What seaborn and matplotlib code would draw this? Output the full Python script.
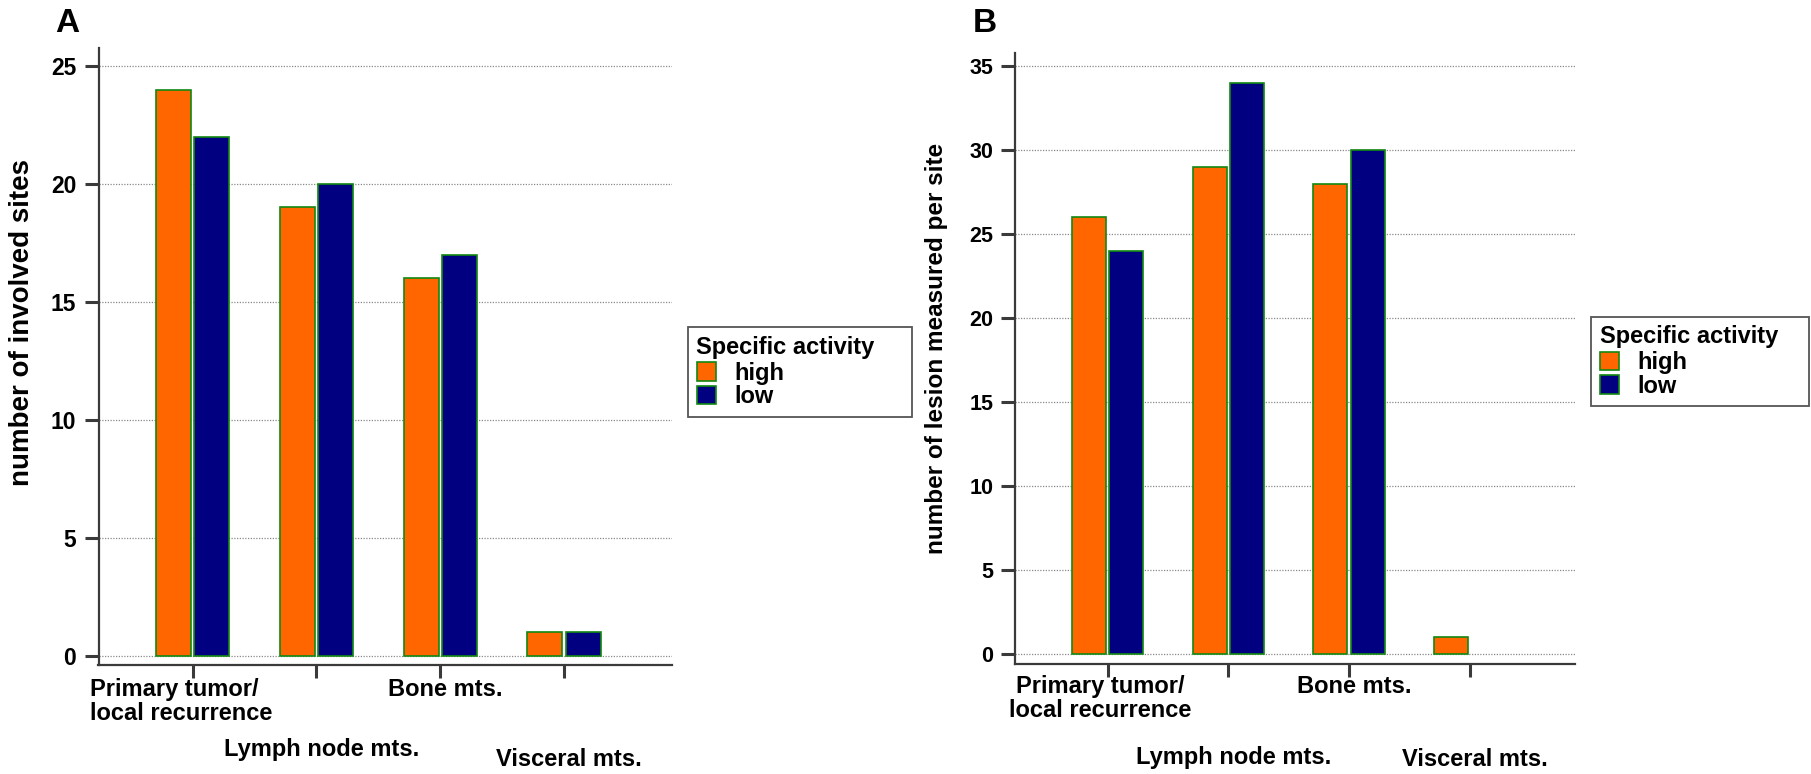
import matplotlib
matplotlib.use("Agg")
import matplotlib.pyplot as plt
import matplotlib.transforms as mtransforms
from matplotlib.patches import Patch
import seaborn as sns
import pandas as pd

# ---- data ----
sites = ["Primary tumor/\nlocal recurrence", "Lymph node mts.", "Bone mts.", "Visceral mts."]
activity = ["high", "low"]
a_high = [24, 19, 16, 1]
a_low = [22, 20, 17, 1]
b_high = [26, 29, 28, 1]
b_low = [24, 34, 30, None]   # no 'low' bar for visceral in panel B
a_yticks = [0, 5, 10, 15, 20, 25]
b_yticks = [0, 5, 10, 15, 20, 25, 30, 35]
a_ylabel = "number of involved sites"
b_ylabel = "number of lesion measured per site"
legend_title = "Specific activity"

ORANGE = "#FF6600"
NAVY = "#000080"
EDGE = "#118811"
SPINE = "#3a3a3a"

sns.set_style("white")
REG = ["Liberation Sans", "DejaVu Sans"]
plt.rcParams["font.family"] = REG
plt.rcParams["font.weight"] = "bold"
plt.rcParams["text.color"] = "black"
plt.rcParams["axes.labelcolor"] = "black"
plt.rcParams["xtick.color"] = "black"
plt.rcParams["ytick.color"] = "black"


def make_df(high, low):
    rows = []
    for s, h, l in zip(sites, high, low):
        if h is not None:
            rows.append((s, "high", h))
        if l is not None:
            rows.append((s, "low", l))
    return pd.DataFrame(rows, columns=["site", "activity", "value"])


fig = plt.figure(figsize=(18.11, 7.74), dpi=100)
W, H = 1811, 774


def panel(rect, high, low, yticks, xlim, ylim, ticksize, offsets, first_shift, first_align):
    ax = fig.add_axes(rect)
    df = make_df(high, low)
    sns.barplot(data=df, x="site", y="value", hue="activity", order=sites,
                hue_order=activity, palette=[ORANGE, NAVY], width=0.62, gap=0.09,
                edgecolor=EDGE, linewidth=1.2, saturation=1, legend=False, ax=ax)
    ax.set_xlim(*xlim)
    ax.set_ylim(*ylim)
    ax.set_yticks(yticks)
    ax.set_yticklabels([str(t) for t in yticks], fontfamily=REG,
                       fontweight="bold", fontsize=ticksize, color="black")
    ax.set_xticks(range(len(sites)))
    ax.set_xticklabels([""] * len(sites))
    ax.set_xlabel("")
    ax.set_ylabel("")
    for side in ["top", "right"]:
        ax.spines[side].set_visible(False)
    for side in ["left", "bottom"]:
        ax.spines[side].set_color(SPINE)
        ax.spines[side].set_linewidth(1.6)
    ax.tick_params(axis="y", length=10, width=2.2, color=SPINE, labelcolor="black",
                   pad=6, left=True, direction="out")
    ax.tick_params(axis="x", length=9.5, width=2.2, color=SPINE, pad=2,
                   bottom=True, direction="out")
    ax.set_axisbelow(True)
    ax.yaxis.grid(True, linestyle=(0, (1, 1.2)), color="#8a8a8a", linewidth=0.9)
    ax.xaxis.grid(False)
    base = ax.get_xaxis_transform()
    for i, (s, off) in enumerate(zip(sites, offsets)):
        tr = mtransforms.offset_copy(base, fig=fig, x=0, y=-off, units="dots")
        ax.text(i + (first_shift if i == 0 else 0.04), 0, s, transform=tr,
                ha="center", va="top", color="black",
                multialignment=first_align if i == 0 else "center",
                fontfamily=REG, fontweight="bold", fontsize=17,
                linespacing=1.08)
    return ax


# Panel A
rectA = [98.5 / W, 1 - 665 / H, (672 - 98.5) / W, (665 - 48) / H]
axA = panel(rectA, a_high, a_low, a_yticks, (-0.761, 3.872), (-0.394, 25.76),
            16.5, [13, 73, 13, 83], -0.09, "left")
# Panel B
rectB = [1015.5 / W, 1 - 664 / H, (1575 - 1015.5) / W, (664 - 53) / H]
axB = panel(rectB, b_high, b_low, b_yticks, (-0.763, 3.872), (-0.595, 35.77),
            15.5, [11, 82, 11, 84], -0.06, "center")

fig.text(22 / W, 1 - 323 / H, a_ylabel, rotation=90, ha="center", va="center",
         fontsize=20, fontweight="bold", fontfamily=REG, color="black")
fig.text(937 / W, 1 - 348 / H, b_ylabel, rotation=90, ha="center", va="center",
         fontsize=17.5, fontweight="bold", fontfamily=REG, color="black")

fig.text(55 / W, 1 - 32 / H, "A", fontsize=24, fontweight="bold",
         fontfamily=REG, va="baseline", ha="left", color="black")
fig.text(973 / W, 1 - 32 / H, "B", fontsize=24, fontweight="bold",
         fontfamily=REG, va="baseline", ha="left", color="black")

handles = [Patch(facecolor=ORANGE, edgecolor=EDGE, linewidth=1.2),
           Patch(facecolor=NAVY, edgecolor=EDGE, linewidth=1.2)]


def add_legend(ax, x, y, w):
    leg = ax.legend(handles, activity, title=legend_title, loc="upper left",
                    bbox_to_anchor=(x, y - 0.2, w, 0.2), bbox_transform=fig.transFigure,
                    mode="expand",
                    frameon=True, fancybox=False, framealpha=1,
                    edgecolor="#555555", borderpad=0.36, labelspacing=0.02,
                    handlelength=0.82, handleheight=0.82, handletextpad=0.8,
                    borderaxespad=0, alignment="left",
                    prop={"family": REG, "weight": "bold", "size": 17},
                    title_fontproperties={"family": REG, "weight": "bold", "size": 17})
    leg.get_frame().set_linewidth(1.3)
    leg._legend_box.sep = 2
    for t in leg.get_texts():
        t.set_color("black")
    leg.get_title().set_color("black")
    return leg


add_legend(axA, 688 / W, 1 - 327.5 / H, 224 / W)
add_legend(axB, 1591 / W, 1 - 317 / H, 218 / W)

fig.savefig("out.png", dpi=100)
